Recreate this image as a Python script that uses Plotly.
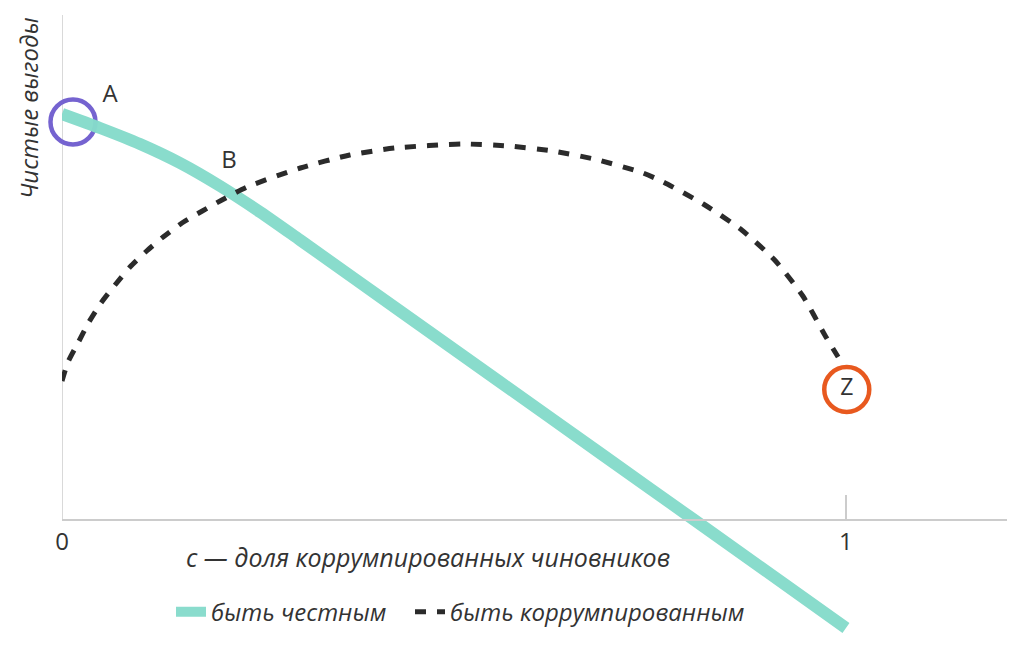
import plotly.graph_objects as go

# ---- data ----
honest_x = [0.0, 0.0485, 0.0995, 0.1505, 0.2015, 0.2526, 0.3036, 0.4311, 0.5587, 0.6862,
            0.8048, 1.0]
honest_y = [4.06, 3.92, 3.76, 3.57, 3.34, 3.08, 2.80, 2.09, 1.38, 0.67,
            0.01, -1.08]

corrupt_x = [0.0, 0.0077, 0.0204, 0.0344, 0.0497, 0.0676, 0.0867, 0.108, 0.129, 0.153,
             0.179, 0.204, 0.236, 0.304, 0.367, 0.425, 0.511, 0.569, 0.626, 0.684,
             0.741, 0.767, 0.818, 0.867, 0.909, 0.945, 0.973, 0.990]
corrupt_y = [1.39, 1.58, 1.77, 1.98, 2.17, 2.35, 2.53, 2.69, 2.83, 2.97,
             3.09, 3.20, 3.33, 3.52, 3.65, 3.72, 3.76, 3.74, 3.69, 3.60,
             3.47, 3.38, 3.16, 2.90, 2.60, 2.24, 1.85, 1.63]

point_a = (0.014, 3.98)
point_z = (1.001, 1.305)
label_names = ["A", "B"]
label_x = [0.0612, 0.213]
label_y = [4.24, 3.58]

tick_vals = [0, 1]
tick_text = ["0", "1"]

series_names = ["быть честным", "быть коррумпированным"]
x_title = "c — доля коррумпированных чиновников"
y_title = "Чистые выгоды"

GREEN = "#86dbcb"
DARK = "#2b2b2b"
PURPLE = "#7563d0"
ORANGE = "#e8591f"
AXIS = "#cccccc"
TEXT = "#333333"
FONT = "Open Sans"

X_RANGE = [0, 1.2054]
Y_RANGE = [-1.25, 5.05]

# the page body has an 8px default margin: plot area sits at window px 62..1007 x 15..645
fig = go.Figure()

fig.add_trace(go.Scatter(
    x=[point_a[0]], y=[point_a[1]], mode="markers",
    marker=dict(size=45, color="rgba(0,0,0,0)", line=dict(color=PURPLE, width=4.5)),
    showlegend=False, hoverinfo="skip", cliponaxis=False))

fig.add_trace(go.Scatter(
    x=honest_x, y=honest_y, mode="lines", name=series_names[0], legend="legend",
    line=dict(color=GREEN, width=12, shape="spline", smoothing=0.8),
    opacity=0.97))

fig.add_trace(go.Scatter(
    x=corrupt_x, y=corrupt_y, mode="lines", name=series_names[1], legend="legend2",
    line=dict(color=DARK, width=5, dash="11px,11px", shape="spline", smoothing=0.6)))

fig.add_trace(go.Scatter(
    x=[point_z[0]], y=[point_z[1]], mode="markers+text", text=["Z"],
    textposition="middle center", textfont=dict(family=FONT, size=23, color=TEXT),
    marker=dict(size=45, color="rgba(0,0,0,0)", line=dict(color=ORANGE, width=4.5)),
    showlegend=False, hoverinfo="skip", cliponaxis=False))

fig.add_trace(go.Scatter(
    x=label_x, y=label_y, mode="text", text=label_names,
    textposition="middle center", textfont=dict(family=FONT, size=24, color=TEXT),
    showlegend=False, hoverinfo="skip", cliponaxis=False))

x0_frac = (0 - Y_RANGE[0]) / (Y_RANGE[1] - Y_RANGE[0])
legend_font = dict(family=FONT, size=24, color=TEXT, style="italic")

fig.update_layout(
    width=1024, height=655,
    margin=dict(l=54, r=25, t=7, b=18),
    paper_bgcolor="white", plot_bgcolor="white",
    font=dict(family=FONT, color=TEXT),
    xaxis=dict(range=X_RANGE, anchor="free", position=x0_frac,
               showline=True, linecolor=AXIS, linewidth=1.5,
               showgrid=False, zeroline=False,
               tickmode="array", tickvals=tick_vals, ticktext=tick_text,
               ticks="inside", ticklen=24, tickcolor=AXIS, tickwidth=1.5,
               tickfont=dict(family=FONT, size=24, color=TEXT)),
    yaxis=dict(range=Y_RANGE, showline=False, showgrid=False, zeroline=False,
               showticklabels=False, ticks=""),
    showlegend=True,
    legend=dict(orientation="h", x=(171 - 62) / 945, xanchor="left", y=0.052, yanchor="middle",
                font=legend_font, bgcolor="rgba(0,0,0,0)"),
    legend2=dict(orientation="h", x=(410 - 62) / 945, xanchor="left", y=0.052, yanchor="middle",
                 font=legend_font, bgcolor="rgba(0,0,0,0)"),
    shapes=[dict(type="line", xref="x", yref="y", x0=0, x1=0, y0=0, y1=Y_RANGE[1],
                 line=dict(color=AXIS, width=1.5), layer="below")],
    annotations=[
        dict(text=x_title, xref="paper", yref="paper",
             x=(428 - 62) / 945, y=(645 - 557) / 630, xanchor="center", yanchor="middle",
             showarrow=False, font=dict(family=FONT, size=25, color=TEXT, style="italic")),
        dict(text=y_title, xref="paper", yref="paper", textangle=-90,
             x=(28 - 62) / 945, y=(645 - 108) / 630, xanchor="center", yanchor="middle",
             showarrow=False, font=dict(family=FONT, size=24, color=TEXT, style="italic")),
    ],
)

fig.write_html("out.html")
